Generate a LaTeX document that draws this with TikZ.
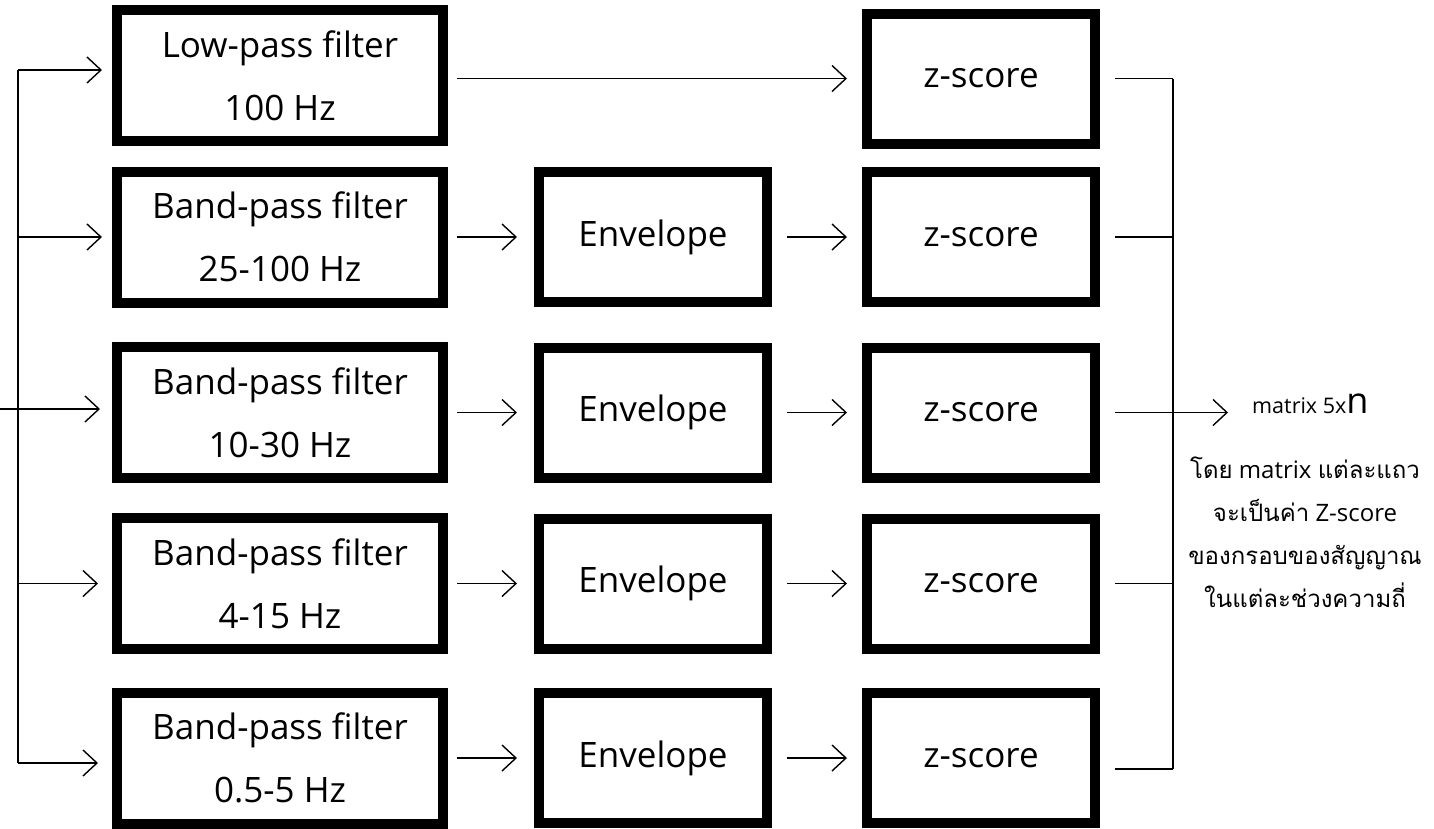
\documentclass[tikz,border=0pt]{standalone}
\usepackage{fontspec}
\setmainfont{Open Sans}
\newfontfamily\thaifont[Script=Thai]{Loma}
\usetikzlibrary{arrows.meta}

\begin{document}
\begin{tikzpicture}[x=1pt,y=-1pt,
  blk/.style={draw, line width=10pt, inner sep=0pt, align=center,
    font=\fontsize{35}{63}\selectfont},
  filt/.style={blk, minimum width=326pt, minimum height=131pt},
  proc/.style={blk, minimum width=228pt, minimum height=130pt},
  link/.style={line width=1.4pt},
  flow/.style={link, -{Straight Barb[length=14pt,width=26pt,line width=1.4pt]}},
]
\useasboundingbox (0,0) rectangle (1434,828);

% filter stage
\node[filt] (f1) at (280,75.5) {Low-pass filter\\100 Hz};
\node[filt] (f2) at (280,237)  {Band-pass filter\\25-100 Hz};
\node[filt] (f3) at (280,412.5){Band-pass filter\\10-30 Hz};
\node[filt] (f4) at (280,583.5){Band-pass filter\\4-15 Hz};
\node[filt] (f5) at (280,758)  {Band-pass filter\\0.5-5 Hz};

% envelope stage
\node[proc] (e2) at (653,237)   {Envelope};
\node[proc] (e3) at (653,412.5) {Envelope};
\node[proc] (e4) at (653,583.5) {Envelope};
\node[proc] (e5) at (653,758)   {Envelope};

% normalisation stage
\node[proc] (z1) at (981,78.5)  {z-score};
\node[proc] (z2) at (981,237)   {z-score};
\node[proc] (z3) at (981,412.5) {z-score};
\node[proc] (z4) at (981,583.5) {z-score};
\node[proc] (z5) at (981,758)   {z-score};

% output description
\node[anchor=base west, inner sep=0pt, font=\fontsize{21.5}{24}\selectfont]
  (out) at (1252,413) {matrix 5x{\fontsize{36}{36}\selectfont n}};
\node[align=center, inner sep=0pt, font=\fontsize{24}{43}\selectfont]
  (note) at (1305,532)
  {{\thaifont โดย} matrix {\thaifont แต่ละแถว}\\
   {\thaifont จะเป็นค่า} Z-score\\
   {\thaifont ของกรอบของสัญญาณ}\\
   {\thaifont ในแต่ละช่วงความถี่}};

% input distribution bus
\coordinate (src) at (0,409);
\coordinate (lbus) at (18,409);
\draw[link] (src) -- (lbus);
\draw[link] ([yshift=5.5pt]f1.west -| lbus) -- ([yshift=-5pt]f5.west -| lbus);
\draw[flow, shorten >=10pt] ([yshift=5.5pt]f1.west -| lbus) -- ([yshift=5.5pt]f1.west);
\draw[flow, shorten >=10pt] (f2.west -| lbus) -- (f2.west);
\draw[flow, shorten >=12pt] ([yshift=3.5pt]f3.west -| lbus) -- ([yshift=3.5pt]f3.west);
\draw[flow, shorten >=14pt] (f4.west -| lbus) -- (f4.west);
\draw[flow, shorten >=14pt] ([yshift=-5pt]f5.west -| lbus) -- ([yshift=-5pt]f5.west);

% filter -> envelope -> z-score
\draw[flow, shorten <=9pt, shorten >=15pt] (f1.east |- z1.west) -- (z1.west);
\foreach \i in {2,...,5}{
  \draw[flow, shorten <=9pt, shorten >=17pt] (f\i.east) -- (e\i.west);
  \draw[flow, shorten <=15pt, shorten >=15pt] (e\i.east) -- (z\i.west);
}

% collecting bus
\coordinate (rbus) at (1173,413);
\foreach \i in {1,2,4}{
  \draw[link] ([xshift=15pt]z\i.east) -- (z\i.east -| rbus);
}
\draw[link] ([xshift=15pt,yshift=-11pt]z5.east) -- ([yshift=-11pt]z5.east -| rbus);
\draw[link] (z1.east -| rbus) -- ([yshift=-11pt]z5.east -| rbus);
\draw[flow, shorten >=24pt] ([xshift=15pt]z3.east) -- (z3.east -| out.west);
\end{tikzpicture}
\end{document}
